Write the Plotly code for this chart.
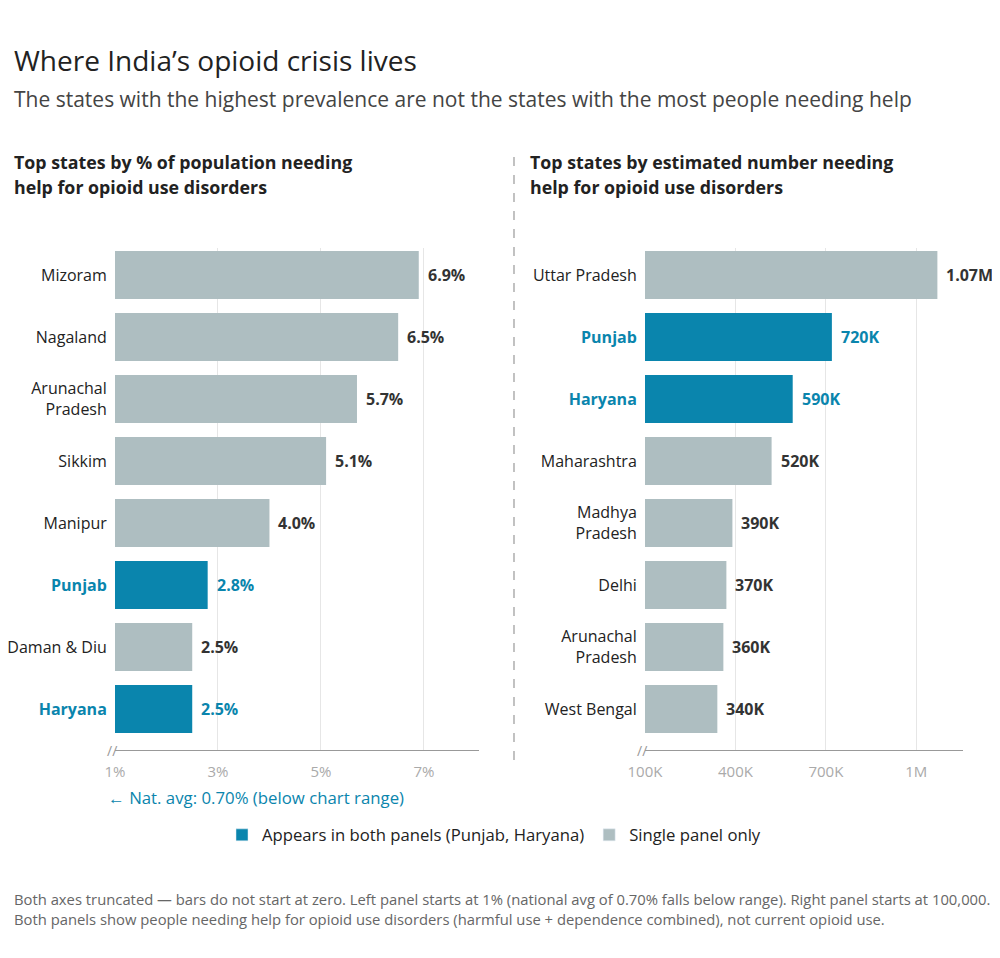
import plotly.graph_objects as go
from plotly.subplots import make_subplots

# data
left_states = ["Mizoram", "Nagaland", "Arunachal Pradesh", "Sikkim", "Manipur",
               "Punjab", "Daman & Diu", "Haryana"]
left_pct = [6.9, 6.5, 5.7, 5.1, 4.0, 2.8, 2.5, 2.5]
left_labels = ["6.9%", "6.5%", "5.7%", "5.1%", "4.0%", "2.8%", "2.5%", "2.5%"]

right_states = ["Uttar Pradesh", "Punjab", "Haryana", "Maharashtra", "Madhya Pradesh",
                "Delhi", "Arunachal Pradesh", "West Bengal"]
right_count = [1070000, 720000, 590000, 520000, 390000, 370000, 360000, 340000]
right_labels = ["1.07M", "720K", "590K", "520K", "390K", "370K", "360K", "340K"]

both_panels = ["Punjab", "Haryana"]

left_ticks = [1, 3, 5, 7]
left_ticktext = ["1%", "3%", "5%", "7%"]
right_ticks = [100000, 400000, 700000, 1000000]
right_ticktext = ["100K", "400K", "700K", "1M"]

left_base = 1
right_base = 100000

TEAL = "#0a85ad"
GREY = "#aebec1"
INK = "#222222"
FONT = "Open Sans"

# page body has an 8px margin, so the figure is drawn 8px in from the window corner
W, H, OFF = 992, 950, 8


def px(x):
    return (x - OFF) / W


def py(y):
    return 1 - (y - OFF) / H


def wrap(name):
    if name in ("Arunachal Pradesh", "Madhya Pradesh"):
        return name.replace(" ", "<br>")
    return name


def tick_text(states):
    out = []
    for s in states:
        if s in both_panels:
            out.append("<b><span style='color:%s'>%s</span></b>" % (TEAL, wrap(s)))
        else:
            out.append(wrap(s))
    return out


fig = make_subplots(rows=1, cols=2)

for col, states, vals, labels, base in [
    (1, left_states, left_pct, left_labels, left_base),
    (2, right_states, right_count, right_labels, right_base),
]:
    colors = [TEAL if s in both_panels else GREY for s in states]
    fig.add_trace(go.Bar(
        y=states, x=[v - base for v in vals], base=base, orientation="h",
        marker=dict(color=colors, line=dict(width=0)),
        width=0.774, showlegend=False, hoverinfo="skip",
    ), row=1, col=col)
    xref = "x" if col == 1 else "x2"
    yref = "y" if col == 1 else "y2"
    for s, v, lab in zip(states, vals, labels):
        fig.add_annotation(
            x=v, y=s, xref=xref, yref=yref, text="<b>%s</b>" % lab,
            showarrow=False, xanchor="left", xshift=7,
            font=dict(size=16, color=TEAL if s in both_panels else "#333333"),
        )

# legend-only entries
fig.add_trace(go.Bar(x=[None], y=[None], marker_color=TEAL,
                     name="Appears in both panels (Punjab, Haryana)"), row=1, col=1)
fig.add_trace(go.Bar(x=[None], y=[None], marker_color=GREY,
                     name="Single panel only"), row=1, col=1)

ydom = [py(750), py(248)]
axis_common = dict(showline=True, linecolor="#999999", linewidth=1.3,
                   gridcolor="#e6e6e6", gridwidth=1, zeroline=False, automargin=False,
                   ticks="outside", ticklen=8, tickcolor="rgba(0,0,0,0)",
                   tickfont=dict(size=15, color="#aaaaaa"), fixedrange=True)

fig.update_xaxes(domain=[px(115), px(479)], range=[1, 8.07], tickvals=left_ticks,
                 ticktext=left_ticktext, **axis_common, row=1, col=1)
fig.update_xaxes(domain=[px(645), px(963)], range=[100000, 1155000], tickvals=right_ticks,
                 ticktext=right_ticktext, **axis_common, row=1, col=2)

ycommon = dict(domain=ydom, range=[7.66, -0.435], showgrid=False, showline=False,
               automargin=False, ticks="outside", ticklen=4, tickcolor="rgba(0,0,0,0)",
               tickfont=dict(size=16, color=INK), fixedrange=True)
fig.update_yaxes(type="category", categoryarray=left_states, tickvals=left_states,
                 ticktext=tick_text(left_states), **ycommon, row=1, col=1)
fig.update_yaxes(type="category", categoryarray=right_states, tickvals=right_states,
                 ticktext=tick_text(right_states), **ycommon, row=1, col=2)

texts = [
    (12, 60, "Where India’s opioid crisis lives", 28, INK, False),
    (12, 99, "The states with the highest prevalence are not the states with the most people needing help", 21, "#444444", False),
    (12, 162, "Top states by % of population needing", 17.8, INK, True),
    (12, 187, "help for opioid use disorders", 17.8, INK, True),
    (528, 162, "Top states by estimated number needing", 17.8, INK, True),
    (528, 187, "help for opioid use disorders", 17.8, INK, True),
    (106, 797, "← Nat. avg: 0.70% (below chart range)", 16.8, TEAL, False),
    (12, 899, "Both axes truncated — bars do not start at zero. Left panel starts at 1% (national avg of 0.70% falls below range). Right panel starts at 100,000.", 14.8, "#666666", False),
    (12, 919, "Both panels show people needing help for opioid use disorders (harmful use + dependence combined), not current opioid use.", 14.8, "#666666", False),
]
for x, y, t, size, color, bold in texts:
    fig.add_annotation(x=px(x), y=py(y), xref="paper", yref="paper",
                       text="<b>%s</b>" % t if bold else t, showarrow=False,
                       xanchor="left", yanchor="middle",
                       font=dict(size=size, color=color))

# axis break marks
for xref, x0 in [("x", left_base), ("x2", right_base)]:
    fig.add_annotation(x=x0, y=py(750), xref=xref, yref="paper", text="//",
                       showarrow=False, xanchor="center", yanchor="middle",
                       xshift=-3, font=dict(size=14, color="#999999"))

# dashed divider between panels
fig.add_shape(type="line", xref="paper", yref="paper", x0=px(514), x1=px(514),
              y0=py(157), y1=py(760), line=dict(color="#999999", width=1.2, dash="dash"))

fig.update_layout(
    width=W, height=H, margin=dict(l=0, r=0, t=0, b=0, autoexpand=False),
    paper_bgcolor="white", plot_bgcolor="white",
    font=dict(family=FONT, color=INK),
    barmode="overlay",
    legend=dict(orientation="h", x=px(494), xanchor="center", y=py(835), yanchor="middle",
                font=dict(size=16.7, color=INK), itemclick=False, itemdoubleclick=False),
)

fig.write_html("out.html")
